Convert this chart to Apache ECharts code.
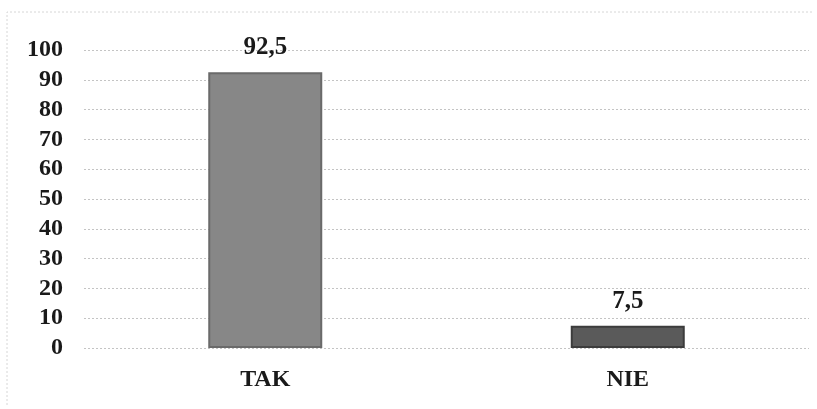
<!DOCTYPE html>
<html>
<head>
<meta charset="utf-8">
<script src="https://cdn.jsdelivr.net/npm/echarts@6/dist/echarts.min.js"></script>
<style>
  html, body { margin: 0; padding: 0; background: #fff; }
  #chart { width: 817px; height: 409px; }
</style>
</head>
<body>
<div id="chart"></div>
<script>
// Answers and their percentage shares
const categories = ['TAK', 'NIE'];
const values = [92.5, 7.5];
const barColors = ['#878787', '#5a5a5a'];
const barBorders = ['#6a6a6a', '#3c3c3c'];

const chart = echarts.init(document.getElementById('chart'));
const serif = '"Liberation Serif", "DejaVu Serif", serif';

chart.setOption({
  animation: false,
  backgroundColor: '#ffffff',
  grid: { left: 84, right: 8, top: 50, bottom: 61 },
  graphic: [
    {
      type: 'polyline',
      shape: { points: [[7, 405], [7, 12], [812, 12]] },
      style: { stroke: '#d6d6d6', lineWidth: 1, fill: null, lineDash: [2, 2] },
      silent: true
    }
  ],
  xAxis: {
    type: 'category',
    data: categories,
    axisLine: { show: false },
    axisTick: { show: false },
    axisLabel: {
      margin: 20,
      fontFamily: serif,
      fontWeight: 'bold',
      fontSize: 24,
      color: '#1a1a1a'
    }
  },
  yAxis: {
    type: 'value',
    min: 0,
    max: 100,
    interval: 10,
    axisLine: { show: false },
    axisTick: { show: false },
    axisLabel: {
      margin: 21,
      fontFamily: serif,
      fontWeight: 'bold',
      fontSize: 24,
      color: '#1a1a1a'
    },
    splitLine: {
      show: true,
      lineStyle: { color: '#c4c4c4', width: 1, type: [2, 2] }
    }
  },
  series: [
    {
      type: 'bar',
      barWidth: 114,
      data: values.map((v, i) => ({
        value: v,
        itemStyle: {
          color: barColors[i],
          borderColor: barBorders[i],
          borderWidth: 2
        }
      })),
      label: {
        show: true,
        position: 'top',
        distance: 12,
        formatter: p => String(p.value).replace('.', ','),
        fontFamily: serif,
        fontWeight: 'bold',
        fontSize: 25,
        color: '#1a1a1a'
      }
    }
  ]
});
</script>
</body>
</html>
